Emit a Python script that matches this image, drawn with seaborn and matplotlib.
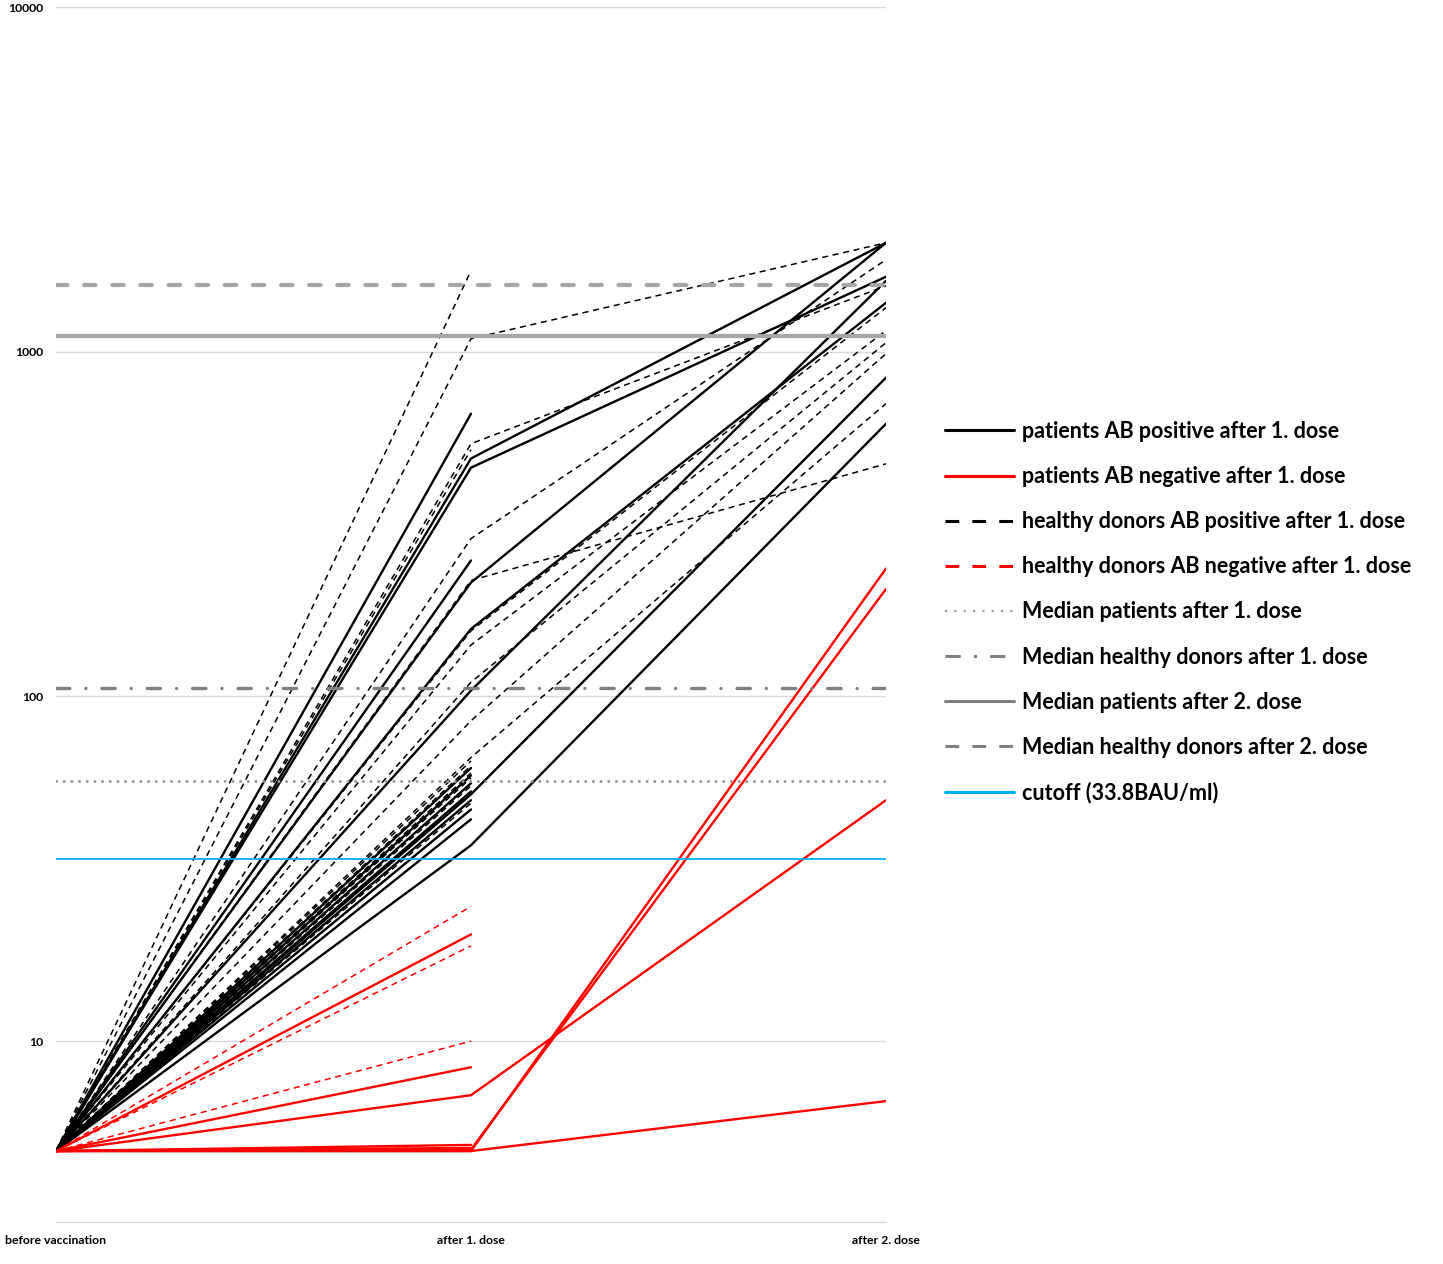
import numpy as np
import pandas as pd
import seaborn as sns
import matplotlib.pyplot as plt
from matplotlib.lines import Line2D
from matplotlib.ticker import NullLocator

# ---- Data (antibody level, BAU/ml) ----
categories = ['before vaccination', 'after 1. dose', 'after 2. dose']
nan = np.nan

patients_pos = [
    [4.8, 661, nan], [4.8, 490, 2070], [4.8, 461, 1650], [4.8, 248, nan],
    [4.8, 214, 2070], [4.8, 157, 1387], [4.8, 104, 1606], [4.8, 52, 841],
    [4.8, 37, 618], [4.8, 62, nan], [4.8, 59, nan], [4.8, 56, nan],
    [4.8, 53, nan], [4.8, 50, nan], [4.8, 47, nan], [4.8, 44, nan],
]
patients_neg = [
    [4.8, 4.8, 235], [4.8, 4.85, 205], [4.8, 6.97, 50], [4.8, 4.8, 6.7],
    [4.8, 8.4, nan], [4.8, 20.4, nan], [4.8, 5.0, nan], [4.8, 4.9, nan],
]
healthy_pos = [
    [4.8, 1718, nan], [4.8, 1091, 2070], [4.8, 541, 1553], [4.8, 520, nan],
    [4.8, 287, 1849], [4.8, 217, 473], [4.8, 155, 1342], [4.8, 141, 1151],
    [4.8, 110, 1062], [4.8, 85, 987], [4.8, 66.5, 707],
    [4.8, 65, nan], [4.8, 63, nan], [4.8, 60, nan], [4.8, 58, nan],
    [4.8, 55, nan], [4.8, 52, nan], [4.8, 49, nan], [4.8, 47, nan],
]
healthy_neg = [[4.8, 24.6, nan], [4.8, 18.9, nan], [4.8, 10, nan]]

median_patients_1 = 57
median_healthy_1 = 106
median_patients_2 = 1112
median_healthy_2 = 1563
cutoff = 33.8

legend_labels = [
    'patients AB positive after 1. dose',
    'patients AB negative after 1. dose',
    'healthy donors AB positive after 1. dose',
    'healthy donors AB negative after 1. dose',
    'Median patients after 1. dose',
    'Median healthy donors after 1. dose',
    'Median patients after 2. dose',
    'Median healthy donors after 2. dose',
    'cutoff (33.8BAU/ml)',
]


def to_long(rows):
    recs = []
    for i, r in enumerate(rows):
        for pos, v in enumerate(r):
            if not np.isnan(v):
                recs.append({'id': i, 'pos': pos, 'value': v})
    return pd.DataFrame(recs)


# ---- Figure ----
sns.set_style('white')
plt.rcParams['font.family'] = ['Lato', 'DejaVu Sans']
plt.rcParams['font.weight'] = 'bold'
plt.rcParams['text.color'] = 'black'

W, H = 1443, 1264
fig = plt.figure(figsize=(W / 100, H / 100), dpi=100)
ax = fig.add_axes([56 / W, 1 - 1222 / H, (886 - 56) / W, (1222 - 7) / H])
ax.set_yscale('log')

groups = [
    (patients_pos, 'black', 1.7, '-'),
    (patients_neg, '#ff0000', 1.7, '-'),
    (healthy_pos, 'black', 1.1, (0, (4, 3))),
    (healthy_neg, '#ff0000', 1.1, (0, (4, 3))),
]
for rows, color, lw, ls in groups:
    sns.lineplot(data=to_long(rows), x='pos', y='value', units='id',
                 estimator=None, color=color, linewidth=lw, linestyle=ls,
                 legend=False, ax=ax)

# median and cutoff lines
ax.axhline(median_patients_1, color='#999999', lw=2.2,
           linestyle=(0, (0.01, 2.5)), dash_capstyle='round', zorder=5)
ax.axhline(median_healthy_1, color='#808080', lw=2.4,
           linestyle=(0, (4, 4.8, 0.01, 4.8)), dash_capstyle='round', zorder=5)
ax.axhline(median_patients_2, color='#a6a6a6', lw=3.0, zorder=5)
ax.axhline(median_healthy_2, color='#a6a6a6', lw=3.0,
           linestyle=(0, (2.75, 4)), dash_capstyle='round', zorder=5)
ax.axhline(cutoff, color='#00b0f0', lw=1.3, zorder=5)

# ---- Axes ----
ax.set_xlim(0, 2)
ax.set_ylim(10 ** (1 - 181 / 345), 10000)
ax.set_yticks([10, 100, 1000, 10000])
ax.set_yticklabels(['10', '100', '1000', '10000'])
ax.yaxis.set_minor_locator(NullLocator())
ax.set_xticks([0, 1, 2])
ax.set_xticklabels(categories)
ax.tick_params(length=0, labelsize=8.8, pad=9, labelcolor='black')
for lab in ax.get_xticklabels() + ax.get_yticklabels():
    lab.set_fontweight('bold')
ax.set_xlabel('')
ax.set_ylabel('')
ax.grid(axis='y', which='major', color='#d9d9d9', lw=1.0)
ax.grid(axis='x', visible=False)
for s in ['left', 'right', 'top']:
    ax.spines[s].set_visible(False)
ax.spines['bottom'].set_color('#d9d9d9')
ax.spines['bottom'].set_linewidth(1.0)

# ---- Legend ----
handles = [
    Line2D([], [], color='black', lw=2.2),
    Line2D([], [], color='#ff0000', lw=2.2),
    Line2D([], [], color='black', lw=2.2, linestyle=(0, (4.5, 4.3))),
    Line2D([], [], color='#ff0000', lw=2.2, linestyle=(0, (4.5, 4.3))),
    Line2D([], [], color='#a0a0a0', lw=1.6, linestyle=(0, (1, 3.2))),
    Line2D([], [], color='#808080', lw=2.2, linestyle=(0, (5, 4.3, 1, 4.3))),
    Line2D([], [], color='#808080', lw=2.2),
    Line2D([], [], color='#808080', lw=2.2, linestyle=(0, (4.5, 4.3))),
    Line2D([], [], color='#00b0f0', lw=2.2),
]
fig.legend(handles, legend_labels, loc='upper left',
           bbox_to_anchor=(945 / W, 1 - 421 / H), frameon=False,
           prop={'family': 'Lato', 'weight': 'bold', 'size': 15.5},
           handlelength=3.2, handletextpad=0.37, labelspacing=1.12,
           borderpad=0, borderaxespad=0, labelcolor='black')

fig.savefig('out.png', dpi=100)
